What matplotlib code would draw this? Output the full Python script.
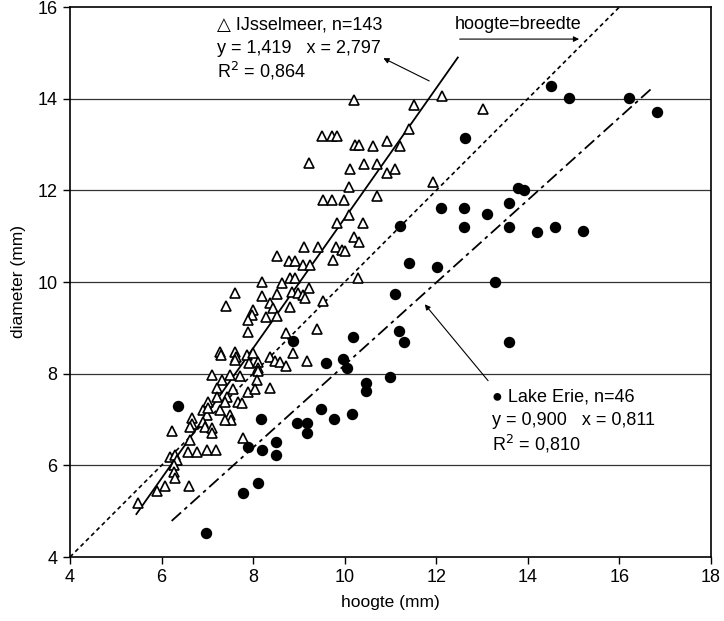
import matplotlib
matplotlib.use("Agg")
import matplotlib.pyplot as plt
import numpy as np

plt.rcParams['font.family'] = ['Liberation Sans', 'DejaVu Sans']

# IJsselmeer (triangles): hoogte, diameter
ijs_x = [10.20, 11.51, 12.12, 13.02, 11.40, 9.50, 9.72, 9.83, 10.22, 10.31,
         10.62, 10.92, 11.21, 9.22, 10.11, 10.42, 10.70, 10.92, 11.10, 10.09,
         11.93, 9.52, 9.72, 9.98, 10.70, 10.09, 9.83, 10.40, 10.20, 10.31,
         8.52, 9.11, 9.41, 9.81, 9.94, 10.00, 8.78, 8.91, 9.09, 9.24,
         9.74, 8.80, 8.91, 8.19, 8.63, 10.29, 7.60, 8.19, 8.52, 8.85,
         8.98, 9.09, 9.22, 9.13, 8.80, 8.37, 8.43, 9.52, 8.00, 7.97,
         8.28, 8.52, 7.41, 7.89, 7.89, 8.72, 9.39, 8.87, 9.17, 7.28,
         7.30, 7.60, 7.62, 7.60, 7.86, 8.00, 7.91, 8.10, 8.37, 8.48,
         8.59, 8.72, 8.10, 8.10, 7.10, 7.32, 7.49, 7.71, 8.08, 7.21,
         7.56, 7.89, 8.04, 8.37, 7.43, 7.01, 7.67, 7.76, 7.28, 6.90,
         6.99, 7.49, 6.66, 7.21, 7.38, 7.52, 7.38, 6.66, 6.90, 6.62,
         6.95, 7.10, 7.10, 7.78, 6.23, 6.62, 6.58, 6.77, 6.99, 7.19,
         6.18, 6.29, 6.34, 6.27, 6.27, 6.29, 6.07, 5.90, 6.60, 5.48,
         7.01]
ijs_y = [13.97, 13.86, 14.06, 13.78, 13.34, 13.19, 13.19, 13.19, 12.99, 12.99,
         12.97, 13.08, 12.97, 12.60, 12.47, 12.58, 12.58, 12.38, 12.47, 12.07,
         12.18, 11.79, 11.79, 11.79, 11.88, 11.46, 11.29, 11.29, 10.98, 10.87,
         10.57, 10.76, 10.76, 10.76, 10.70, 10.68, 10.46, 10.46, 10.37, 10.37,
         10.48, 10.09, 10.09, 10.00, 9.98, 10.09, 9.76, 9.69, 9.74, 9.78,
         9.76, 9.72, 9.87, 9.65, 9.45, 9.54, 9.43, 9.59, 9.39, 9.28,
         9.24, 9.26, 9.48, 9.17, 8.91, 8.89, 8.97, 8.45, 8.28, 8.47,
         8.41, 8.47, 8.36, 8.30, 8.41, 8.45, 8.23, 8.25, 8.36, 8.28,
         8.25, 8.17, 8.12, 8.06, 7.97, 7.86, 7.97, 7.95, 7.86, 7.69,
         7.67, 7.60, 7.67, 7.69, 7.49, 7.38, 7.38, 7.36, 7.21, 7.21,
         7.10, 7.10, 7.03, 7.49, 7.38, 6.99, 6.99, 6.90, 6.95, 6.84,
         6.84, 6.81, 6.71, 6.60, 6.75, 6.55, 6.29, 6.29, 6.33, 6.33,
         6.18, 6.23, 6.12, 6.01, 5.85, 5.72, 5.55, 5.44, 5.55, 5.18,
         7.25]

# Lake Erie (filled circles)
erie_x = [14.50, 14.90, 16.21, 16.82, 12.62, 13.78, 13.91, 12.10, 12.60, 13.10,
          13.59, 11.21, 12.60, 13.59, 14.20, 14.59, 15.20, 11.40, 12.01, 13.28,
          11.10, 11.18, 11.29, 13.59, 10.99, 8.87, 10.18, 9.59, 9.96, 10.05,
          6.36, 10.46, 10.46, 8.17, 9.48, 8.96, 9.17, 9.17, 9.76, 10.16,
          7.89, 8.19, 8.50, 8.50, 7.78, 8.10, 6.97]
erie_y = [14.28, 14.02, 14.02, 13.71, 13.14, 12.05, 12.01, 11.62, 11.62, 11.48,
          11.72, 11.22, 11.20, 11.20, 11.09, 11.20, 11.11, 10.41, 10.33, 10.00,
          9.74, 8.93, 8.69, 8.69, 7.93, 8.71, 8.80, 8.23, 8.32, 8.12,
          7.29, 7.80, 7.62, 7.01, 7.23, 6.92, 6.92, 6.71, 7.01, 7.12,
          6.40, 6.33, 6.51, 6.23, 5.40, 5.61, 4.52]

# regression lines (slope, intercept, x-range)
ijs_fit = (1.419, -2.797)
ijs_range = (5.45, 12.47)
erie_fit = (0.900, -0.811)
erie_range = (6.22, 16.75)
equal_range = (4.0, 16.0)

xticks = [4, 6, 8, 10, 12, 14, 16, 18]
yticks = [4, 6, 8, 10, 12, 14, 16]
gridlines = [6, 8, 10, 12, 14]

fig = plt.figure(figsize=(7.24, 6.21), dpi=100)
ax = fig.add_axes([70/724, 1-557/621, 641/724, 550/621])
ax.set_xlim(4, 18)
ax.set_ylim(4, 16)

for g in gridlines:
    ax.axhline(g, color='#333333', lw=0.9, zorder=1)

# lines
xr = np.array(equal_range)
ax.plot(xr, xr, color='black', lw=1.2, dashes=(2.5, 2), zorder=2)
xr = np.array(ijs_range)
ax.plot(xr, ijs_fit[0]*xr + ijs_fit[1], color='black', lw=1.3, zorder=2)
xr = np.array(erie_range)
ax.plot(xr, erie_fit[0]*xr + erie_fit[1], color='black', lw=1.3,
        dashes=(7, 2.5, 2, 2.5), zorder=2)

ax.plot(ijs_x, ijs_y, linestyle='none', marker='^', markersize=7.5,
        markerfacecolor='white', markeredgecolor='black', markeredgewidth=1.2, zorder=3)
ax.plot(erie_x, erie_y, linestyle='none', marker='o', markersize=7.2,
        markerfacecolor='black', markeredgecolor='black', zorder=4)

ax.set_xticks(xticks)
ax.set_yticks(yticks)
ax.tick_params(direction='out', length=5, width=1, labelsize=13, pad=4)
for s in ax.spines.values():
    s.set_linewidth(1.2)

ax.set_xlabel('hoogte (mm)', fontsize=12.5, labelpad=6)
ax.set_ylabel('diameter (mm)', fontsize=12.5, labelpad=8)

fs = 13
ax.text(7.21, 15.61, '\u25b3 IJsselmeer, n=143', fontsize=fs, va='center', ha='left')
ax.text(7.21, 15.10, 'y = 1,419   x = 2,797', fontsize=fs, va='center', ha='left')
ax.text(7.21, 14.60, 'R$^2$ = 0,864', fontsize=fs, va='center', ha='left')
ax.annotate('', xy=(10.79, 14.91), xytext=(11.90, 14.36),
            arrowprops=dict(arrowstyle='-|>', color='black', lw=0.8, mutation_scale=8))

ax.text(12.41, 15.61, 'hoogte=breedte', fontsize=fs, va='center', ha='left')
ax.annotate('', xy=(15.18, 15.30), xytext=(12.45, 15.30),
            arrowprops=dict(arrowstyle='-|>', color='black', lw=0.8, mutation_scale=8))

ax.text(13.21, 7.49, '\u25cf Lake Erie, n=46', fontsize=fs, va='center', ha='left')
ax.text(13.21, 6.97, 'y = 0,900   x = 0,811', fontsize=fs, va='center', ha='left')
ax.text(13.21, 6.46, 'R$^2$ = 0,810', fontsize=fs, va='center', ha='left')
ax.annotate('', xy=(11.71, 9.56), xytext=(13.17, 7.80),
            arrowprops=dict(arrowstyle='-|>', color='black', lw=0.8, mutation_scale=8))

fig.savefig('out.png', dpi=100)
